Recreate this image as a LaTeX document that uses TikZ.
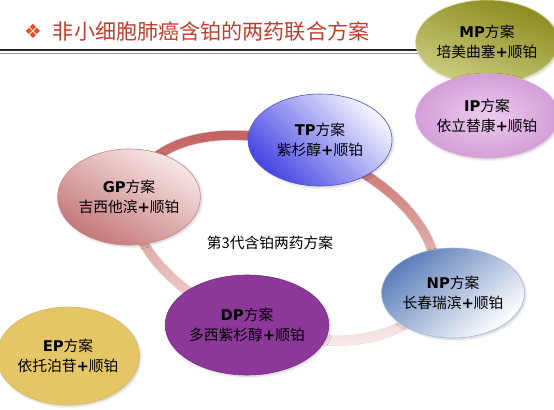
\documentclass[tikz,border=0pt]{standalone}
\usepackage{fontspec}
\usetikzlibrary{shapes.geometric,shadows.blur}
\newfontfamily\cjk{Noto Sans CJK SC}
\newfontfamily\dejavu{DejaVu Sans}
\definecolor{titlered}{RGB}{192,62,45}
\definecolor{bulletred}{RGB}{226,80,40}
\definecolor{ringtop}{RGB}{190,88,84}
\definecolor{ringbot}{RGB}{252,244,244}
\newcommand{\fangan}[1]{{\dejavu\bfseries #1}方案}
\newcommand{\jia}{{\dejavu\bfseries +}}

\begin{document}
\begin{tikzpicture}[x=0.025cm, y=-0.025cm,
  fang/.style={ellipse, inner sep=0pt, align=center, text=black,
    font=\cjk\fontsize{10.5}{14}\selectfont,
    blur shadow={shadow blur steps=4, shadow xshift=1pt, shadow yshift=-1pt, shadow opacity=20}}]
  \useasboundingbox (0,0) rectangle (554,409);
  % 标题
  \node[text=bulletred, font=\dejavu\fontsize{14}{14}\selectfont] (bullet) at (33,31) {❖};
  \node[anchor=west, text=titlered, font=\cjk\fontsize{15}{18}\selectfont] (title) at (48,31) {非小细胞肺癌含铂的两药联合方案};
  \draw[line width=1.6pt, black!85] (0,50) -- (430,50);
  \draw[line width=0.4pt, black!40] (0,53) -- (430,53);
  % 右上角两个方案
  \node[fang, minimum width=3.05cm, minimum height=2.1cm, draw=white!70!olive,
    top color={rgb,255:red,138;green,138;blue,28}, bottom color={rgb,255:red,205;green,205;blue,130}, shading angle=-20]
    (mp) at (487,42) {\fangan{MP}\\培美曲塞\jia 顺铂};
  \node[fang, minimum width=3.15cm, minimum height=2.1cm, draw={rgb,255:red,215;green,170;blue,220},
    inner color={rgb,255:red,236;green,204;blue,238}, outer color={rgb,255:red,212;green,158;blue,216}]
    (ip) at (487,116) {\fangan{IP}\\依立替康\jia 顺铂};
  % 圆环
  \begin{scope}[rotate around={-20:(284,238)}]
    \shade[top color=ringtop, bottom color=ringbot, even odd rule, draw=ringtop!25, line width=0.3pt]
      (284,238) ellipse (163 and 98) (284,238) ellipse (153 and 88);
  \end{scope}
  % 第3代方案
  \node[fang, minimum width=3.6cm, minimum height=2.3cm, draw={rgb,255:red,80;green,80;blue,200},
    top color={rgb,255:red,245;green,245;blue,255}, bottom color={rgb,255:red,70;green,70;blue,228}, shading angle=-45]
    (tp) at (320,140) {\fangan{TP}\\紫杉醇\jia 顺铂};
  \node[fang, minimum width=3.3cm, minimum height=2.4cm, draw={rgb,255:red,200;green,130;blue,130},
    top color={rgb,255:red,248;green,232;blue,232}, bottom color={rgb,255:red,196;green,118;blue,118}, shading angle=-30]
    (gp) at (129,197) {\fangan{GP}\\吉西他滨\jia 顺铂};
  \node[fang, minimum width=3.4cm, minimum height=2.25cm, draw={rgb,255:red,160;green,180;blue,220},
    top color={rgb,255:red,92;green,125;blue,186}, bottom color=white, shading angle=40]
    (np) at (453,293) {\fangan{NP}\\长春瑞滨\jia 顺铂};
  \node[fang, minimum width=3.5cm, minimum height=2.5cm, draw={rgb,255:red,120;green,45;blue,130},
    fill={rgb,255:red,140;green,56;blue,152}]
    (dp) at (247,325) {\fangan{DP}\\多西紫杉醇\jia 顺铂};
  \node[font=\cjk\fontsize{10.5}{14}\selectfont] (label) at (270,243) {第3代含铂两药方案};
  % 左下角
  \node[fang, minimum width=3.35cm, minimum height=2.45cm, draw={rgb,255:red,215;green,185;blue,95},
    fill={rgb,255:red,228;green,198;blue,102}]
    (ep) at (68,356) {\fangan{EP}\\依托泊苷\jia 顺铂};
\end{tikzpicture}
\end{document}
